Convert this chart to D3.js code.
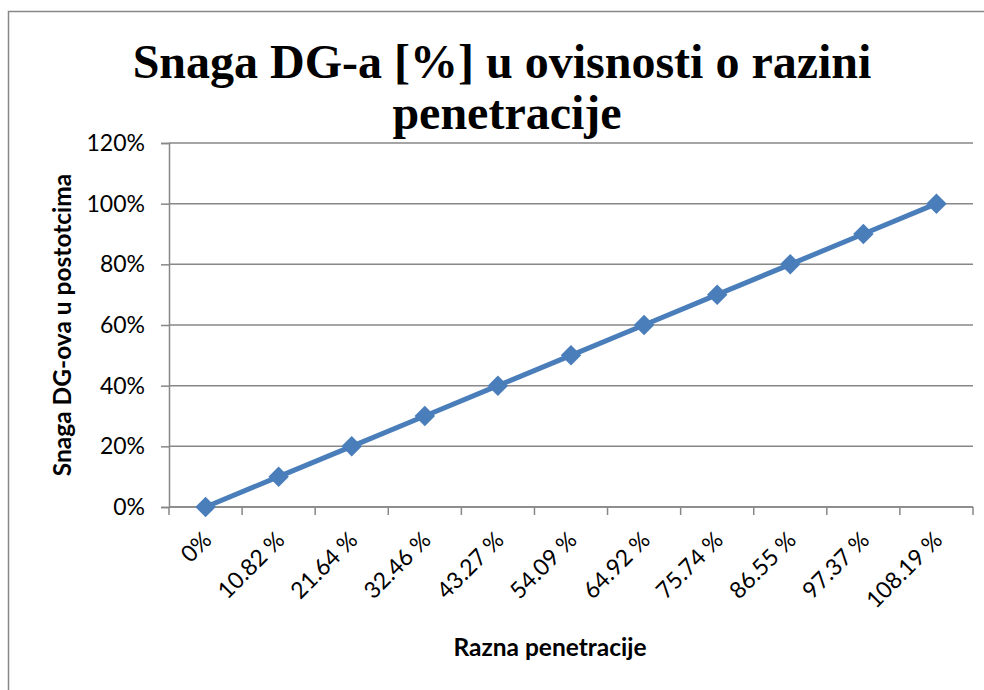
<!DOCTYPE html>
<html>
<head>
<meta charset="utf-8">
<script src="https://cdn.jsdelivr.net/npm/d3@7"></script>
<style>
  html, body { margin: 0; padding: 0; background: #fff; overflow: hidden; }
  svg { display: block; }
</style>
</head>
<body>
<div id="chart"></div>
<script>
const categories = ['0%', '10.82 %', '21.64 %', '32.46 %', '43.27 %', '54.09 %',
  '64.92 %', '75.74 %', '86.55 %', '97.37 %', '108.19 %'];
const values = [0, 10, 20, 30, 40, 50, 60, 70, 80, 90, 100];
const yTicks = [0, 20, 40, 60, 80, 100, 120];
const titleLines = ['Snaga DG-a [%] u ovisnosti o razini', 'penetracije'];
const xTitle = 'Razna penetracije';
const yTitle = 'Snaga DG-ova u postotcima';

const width = 984;
const height = 690;
const margin = { top: 143, right: 11, bottom: 183, left: 169 };
const gridColor = '#878787';
const seriesColor = '#4a7ebb';
const labelFont = 'Lato, "Open Sans", sans-serif';

const svg = d3.select('#chart')
  .append('svg')
  .attr('width', width)
  .attr('height', height);

// chart frame: only the left and top edges fall inside the picture
svg.append('path')
  .attr('d', `M8.5,${height}V11.5H${width}`)
  .attr('fill', 'none')
  .attr('stroke', gridColor)
  .attr('stroke-width', 1.5);

const x = d3.scaleBand()
  .domain(categories)
  .range([margin.left, width - margin.right])
  .paddingInner(0)
  .paddingOuter(0);

const y = d3.scaleLinear()
  .domain([0, 120])
  .range([height - margin.bottom, margin.top]);

// horizontal gridlines
svg.append('g')
  .selectAll('line')
  .data(yTicks)
  .join('line')
  .attr('x1', margin.left)
  .attr('x2', width - margin.right)
  .attr('y1', d => y(d))
  .attr('y2', d => y(d))
  .attr('stroke', gridColor)
  .attr('stroke-width', 1.5);

// y axis
const yAxis = svg.append('g')
  .attr('transform', `translate(${margin.left}, 0)`)
  .call(d3.axisLeft(y).tickValues(yTicks).tickSize(8).tickPadding(16).tickFormat(d => d + '%'));
yAxis.select('.domain').attr('stroke', gridColor).attr('stroke-width', 1.5);
yAxis.selectAll('.tick line').attr('stroke', gridColor).attr('stroke-width', 1.5);
yAxis.selectAll('.tick text')
  .attr('fill', '#000')
  .style('font-family', labelFont)
  .style('font-size', '23px');

// x axis: Excel style ticks between categories
const xAxis = svg.append('g')
  .attr('transform', `translate(0, ${y(0)})`);
xAxis.append('line')
  .attr('x1', margin.left)
  .attr('x2', width - margin.right)
  .attr('stroke', gridColor)
  .attr('stroke-width', 1.5);
const boundaries = categories.map(c => x(c)).concat([x.range()[1]]);
xAxis.selectAll('line.tick')
  .data(boundaries)
  .join('line')
  .attr('class', 'tick')
  .attr('x1', d => d)
  .attr('x2', d => d)
  .attr('y1', 0)
  .attr('y2', 8)
  .attr('stroke', gridColor)
  .attr('stroke-width', 1.5);
xAxis.selectAll('text')
  .data(categories)
  .join('text')
  .attr('transform', d => `translate(${x(d) + x.bandwidth() / 2 - 4}, 23) rotate(-45)`)
  .attr('text-anchor', 'end')
  .attr('dy', '0.7em')
  .style('font-family', labelFont)
  .style('font-size', '23px')
  .text(d => d);

// series line
const line = d3.line()
  .x((d, i) => x(categories[i]) + x.bandwidth() / 2)
  .y(d => y(d));

svg.append('path')
  .datum(values)
  .attr('fill', 'none')
  .attr('stroke', seriesColor)
  .attr('stroke-width', 5)
  .attr('stroke-linejoin', 'round')
  .attr('d', line);

svg.append('g')
  .selectAll('path')
  .data(values)
  .join('path')
  .attr('transform', (d, i) => `translate(${x(categories[i]) + x.bandwidth() / 2}, ${y(d)}) rotate(45)`)
  .attr('d', d3.symbol(d3.symbolSquare, 210))
  .attr('fill', seriesColor);

// title
svg.append('text')
  .attr('text-anchor', 'middle')
  .style('font-family', '"Liberation Serif", "Times New Roman", serif')
  .style('font-weight', 'bold')
  .style('font-size', '48px')
  .selectAll('tspan')
  .data(titleLines)
  .join('tspan')
  .attr('x', (d, i) => i === 0 ? 502 : 507)
  .attr('y', (d, i) => 78 + i * 51)
  .text(d => d);

// axis titles
svg.append('text')
  .attr('x', 550)
  .attr('y', 656)
  .attr('text-anchor', 'middle')
  .style('font-family', labelFont)
  .style('font-weight', 'bold')
  .style('font-size', '24.5px')
  .text(xTitle);

svg.append('text')
  .attr('transform', `translate(71, ${(y(0) + y(120)) / 2}) rotate(-90)`)
  .attr('text-anchor', 'middle')
  .style('font-family', labelFont)
  .style('font-weight', 'bold')
  .style('font-size', '24.5px')
  .text(yTitle);
</script>
</body>
</html>
